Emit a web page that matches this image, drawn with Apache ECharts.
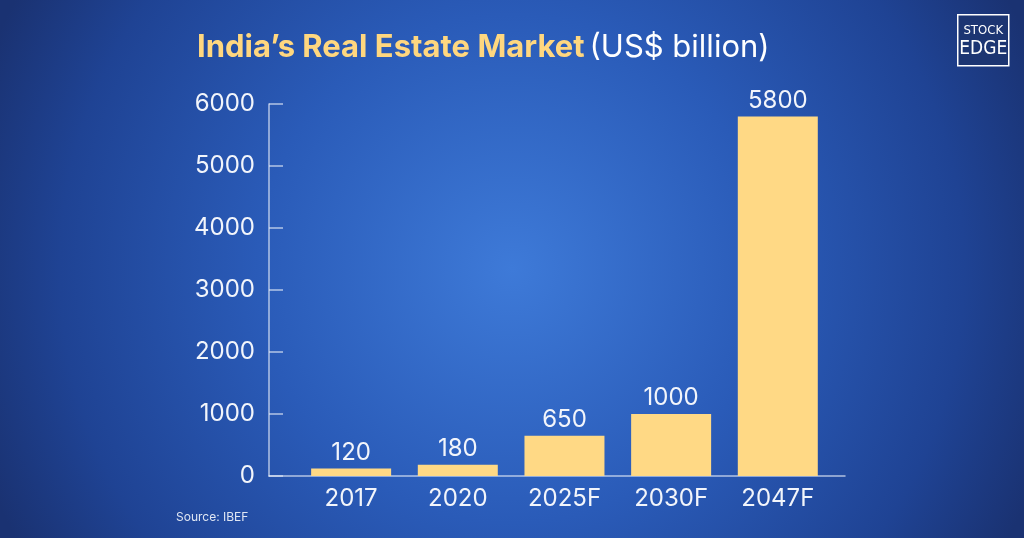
<!DOCTYPE html>
<html><head><meta charset="utf-8">
<script src="https://cdn.jsdelivr.net/npm/echarts@6/dist/echarts.min.js"></script>
<style>html,body{margin:0;padding:0;background:#1d3a86}#c{width:1024px;height:538px}</style>
</head><body><div id="c"></div>
<script>
const categories = ['2017', '2020', '2025F', '2030F', '2047F'];
const values = [120, 180, 650, 1000, 5800];
const yTicks = [0, 1000, 2000, 3000, 4000, 5000, 6000];
const titleMain = 'India\u2019s Real Estate Market';
const titleUnit = '(US$ billion)';
const sourceText = 'Source: IBEF';

const chart = echarts.init(document.getElementById('c'));
const FONT = 'Inter, "Open Sans", sans-serif';
chart.setOption({
  backgroundColor: {
    type: 'radial', x: 0.5, y: 0.5, r: 1.05,
    colorStops: [
      {offset: 0, color: '#3e7ad8'},
      {offset: 0.45, color: '#2a5bb8'},
      {offset: 0.8, color: '#1f4394'},
      {offset: 1, color: '#1a3272'}
    ]
  },
  animation: false,
  title: {
    left: 192, top: 27,
    text: '{a|' + titleMain + '} {b|' + titleUnit + '}',
    textStyle: {
      rich: {
        a: {fontFamily: FONT, fontSize: 31, fontWeight: 700, color: '#ffd77f'},
        b: {fontFamily: FONT, fontSize: 31, fontWeight: 400, color: '#ffffff'}
      }
    }
  },
  grid: {left: 269, right: 179, top: 104, bottom: 62, containLabel: false},
  xAxis: {
    type: 'value', min: -0.77, max: 4.63,
    axisLine: {show: true, onZero: false, lineStyle: {color: 'rgba(225,232,245,0.75)', width: 1.5}},
    axisTick: {show: false},
    splitLine: {show: false},
    axisLabel: {
      customValues: [0, 1, 2, 3, 4],
      formatter: v => categories[Math.round(v)] || '',
      color: '#f2f5fb', fontFamily: FONT, fontSize: 24, margin: 11
    }
  },
  yAxis: {
    type: 'value', min: 0, max: 6000, interval: 1000,
    axisLine: {show: true, onZero: false, lineStyle: {color: 'rgba(225,232,245,0.75)', width: 1.5}},
    axisTick: {show: true, inside: true, length: 14, lineStyle: {color: 'rgba(225,232,245,0.75)', width: 1.5}},
    splitLine: {show: false},
    axisLabel: {
      customValues: yTicks,
      formatter: v => String(v),
      color: '#f2f5fb', fontFamily: FONT, fontSize: 24, margin: 14
    }
  },
  series: [{
    type: 'bar',
    barWidth: 80,
    data: values.map((v, i) => [i, v]),
    itemStyle: {color: '#ffd985'},
    label: {
      show: true, position: 'top', distance: 4,
      formatter: p => String(p.value[1]),
      color: '#f2f5fb', fontFamily: FONT, fontSize: 24
    }
  }],
  graphic: [
    {type: 'text', left: 176, top: 511,
     style: {text: sourceText, fill: '#dfe6f3', font: '12px ' + FONT}},
    {type: 'group', left: 957, top: 14, children: [
      {type: 'rect', shape: {x: 0, y: 0, width: 51, height: 51},
       style: {fill: '#1c3572', stroke: '#ffffff', lineWidth: 1.5}},
      {type: 'text', x: 25.5, y: 9, style: {text: 'STOCK', fill: '#ffffff', align: 'center',
       font: '13px "DejaVu Sans Condensed", "Liberation Sans Narrow", sans-serif'}},
      {type: 'text', x: 25.5, y: 25, style: {text: 'EDGE', fill: '#ffffff', align: 'center',
       font: '19px "DejaVu Sans Condensed", "Liberation Sans Narrow", sans-serif'}}
    ]}
  ]
});
</script></body></html>
